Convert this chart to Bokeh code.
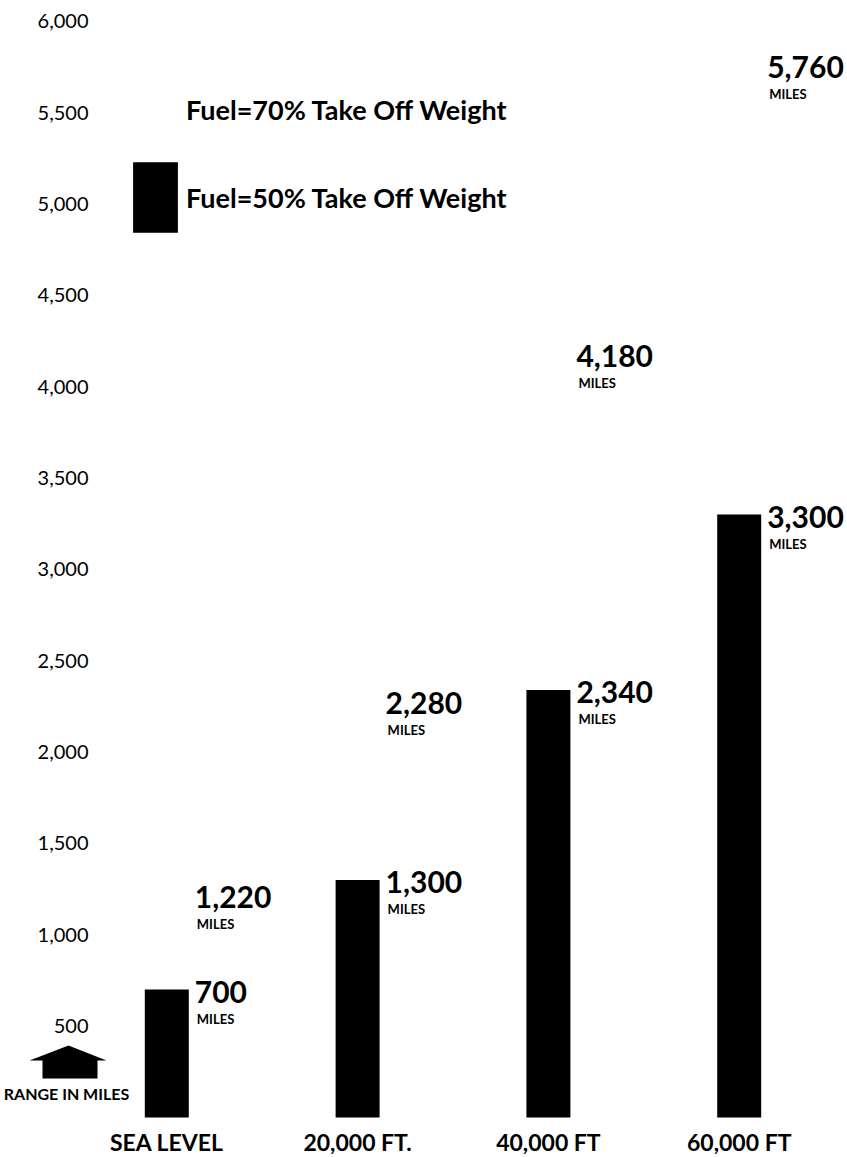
from bokeh.plotting import figure
from bokeh.models import (ColumnDataSource, Range1d, Legend, LegendItem, Label, PolyAnnotation)
from bokeh.core.properties import value
from bokeh.embed import file_html
from bokeh.resources import INLINE

# ---- data ----
altitudes = ["SEA LEVEL", "20,000 FT.", "40,000 FT", "60,000 FT"]
fuel_70 = [1220, 2280, 4180, 5760]
fuel_50 = [700, 1300, 2340, 3300]
y_ticks = [500, 1000, 1500, 2000, 2500, 3000, 3500, 4000, 4500, 5000, 5500, 6000]
series_names = ["Fuel=70% Take Off Weight", "Fuel=50% Take Off Weight"]
unit_label = "MILES"
axis_title = "RANGE IN MILES"

FONT = "Lato"
idx = list(range(len(altitudes)))

X0, X1 = -0.8716, 3.5676
Y0, Y1 = -218.9, 6114

p = figure(width=847, height=1157,
           x_range=Range1d(X0, X1), y_range=Range1d(Y0, Y1),
           output_backend="svg", toolbar_location=None,
           min_border_left=0, min_border_right=0, min_border_top=0, min_border_bottom=0)
p.axis.visible = False
p.outline_line_color = None
p.grid.visible = False
p.background_fill_color = "white"
p.border_fill_color = "white"

bar_w = 0.2306
r70 = p.vbar(x=idx, top=fuel_70, width=bar_w, bottom=0, fill_color="white", line_color=None)
r50 = p.vbar(x=idx, top=fuel_50, width=bar_w, bottom=0, fill_color="black", line_color=None)

# value labels
src = ColumnDataSource(dict(
    x=idx + idx,
    y=fuel_70 + fuel_50,
    num=[f"{v:,}" for v in fuel_70 + fuel_50],
    unit=[unit_label] * (len(fuel_70) + len(fuel_50)),
))
p.text(x="x", y="y", text="num", source=src, x_offset=28, y_offset=2,
       text_align="left", text_baseline="middle", text_font=value(FONT),
       text_font_style="bold", text_font_size="30px", text_color="black")
p.text(x="x", y="y", text="unit", source=src, x_offset=30, y_offset=29,
       text_align="left", text_baseline="middle", text_font=value(FONT),
       text_font_style="bold", text_font_size="13px", text_color="black")

# value axis labels (placed through the y scale)
p.text(x=[X0] * len(y_ticks), y=y_ticks, text=[f"{t:,}" for t in y_ticks],
       x_offset=88, text_align="right", text_baseline="middle",
       text_font=value(FONT), text_font_size="20px", text_color="black")

# category labels (placed through the x scale)
p.text(x=idx, y=[0] * len(idx), text=altitudes, y_offset=24,
       text_align="center", text_baseline="middle",
       text_font=value(FONT), text_font_style="bold", text_font_size="23px",
       text_color="black")

legend = Legend(items=[LegendItem(label=series_names[0], renderers=[r70]),
                       LegendItem(label=series_names[1], renderers=[r50])],
                location=(127, 916), glyph_width=56, glyph_height=88,
                label_standoff=3, spacing=-14, padding=0, margin=0,
                border_line_color=None, background_fill_alpha=0,
                label_text_font=FONT, label_text_font_style="bold",
                label_text_font_size="27px", label_text_color="black",
                label_text_baseline="middle")
p.add_layout(legend)

# "range in miles" marker
arrow = PolyAnnotation(xs=[29, 68, 106, 97, 97, 42, 42], ys=[1060, 1045, 1060, 1060, 1078, 1078, 1060],
                       xs_units="canvas", ys_units="canvas",
                       fill_color="black", fill_alpha=1.0, line_color=None)
p.add_layout(arrow)
p.add_layout(Label(x=66, y=1093, x_units="canvas", y_units="canvas", text=axis_title,
                   text_align="center", text_baseline="middle", text_font=FONT,
                   text_font_style="bold", text_font_size="16px", text_color="black"))

open("out.html", "w").write(file_html(p, INLINE))
